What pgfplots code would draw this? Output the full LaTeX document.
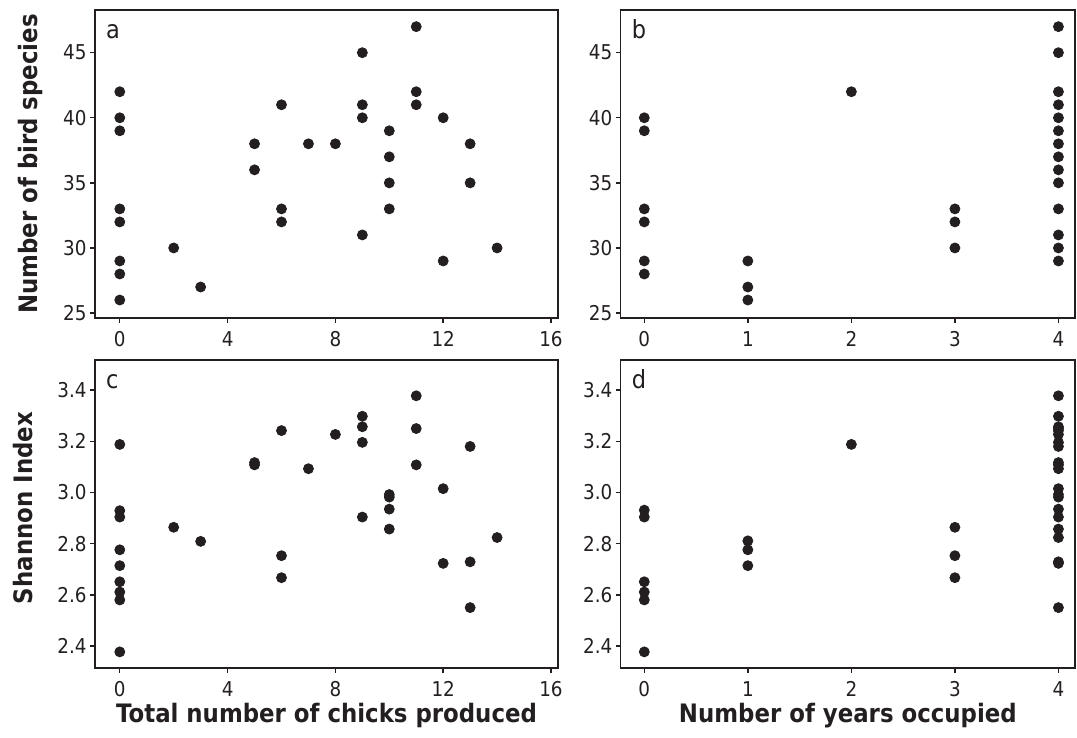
\documentclass[border=0pt]{standalone}
\usepackage{fontspec}
\setmainfont{DejaVu Sans}[FakeStretch=0.9]
\usepackage{pgfplots}
\pgfplotsset{compat=1.18}
\definecolor{ink}{HTML}{231F20}

\tikzset{letter/.style={anchor=base west, font=\fontsize{12.5}{14}\selectfont, text=ink, xshift=2pt, yshift=-14.5pt}}

\pgfplotsset{
  panel/.style={
    scale only axis, height=154pt,
    axis line style={ink, line width=0.7pt},
    tick style={ink, line width=0.7pt},
    tick align=outside, major tick length=2.5pt,
    xtick pos=left, ytick pos=left,
    /pgf/number format/assume math mode=true,
    every tick label/.append style={font=\fontsize{10.2}{12}\selectfont, text=ink, inner sep=1.5pt},
    xticklabel style={yshift=-2.5pt},
    label style={font=\fontsize{12.7}{15}\selectfont\bfseries, text=ink},
    xlabel style={at={(axis description cs:0.5,0)}, anchor=base, yshift=-27.5pt},
  },
  birds/.style={ymin=24.62, ymax=48.28, ytick={25,30,35,40,45}},
  shannon/.style={ymin=2.314, ymax=3.518, ytick={2.4,2.6,2.8,3.0,3.2,3.4},
    yticklabel style={/pgf/number format/.cd, fixed, fixed zerofill, precision=1}},
  chicks/.style={width=231.5pt, xmin=-0.92, xmax=16.26, xtick={0,4,8,12,16}},
  years/.style={width=227.15pt, xmin=-0.228, xmax=4.16, xtick={0,1,2,3,4}},
  dots/.style={only marks, mark=*, mark size=2.5pt, color=ink, mark options={fill=ink, draw=ink}},
}

\begin{document}
\begin{tikzpicture}
\useasboundingbox (0,0) rectangle (538.5pt,369pt);

% a
\begin{axis}[panel, birds, chicks, at={(47.5pt,364pt)}, anchor=north west,
  ylabel={Number of bird species}, ylabel style={yshift=5pt}]
\addplot[dots] coordinates {
 (0,42)(0,40)(0,39)(0,33)(0,32)(0,29)(0,28)(0,26)
 (2,30)(3,27)(5,38)(5,36)(6,41)(6,33)(6,32)(7,38)(8,38)
 (9,45)(9,41)(9,40)(9,31)(10,39)(10,37)(10,35)(10,33)
 (11,47)(11,42)(11,41)(12,40)(12,29)(13,38)(13,35)(14,30)
};
\node[letter] at (rel axis cs:0,1) {a};
\end{axis}

% b
\begin{axis}[panel, birds, years, at={(310.35pt,364pt)}, anchor=north west]
\addplot[dots] coordinates {
 (0,40)(0,39)(0,33)(0,32)(0,29)(0,28)
 (1,29)(1,27)(1,26)(2,42)(3,33)(3,32)(3,30)
 (4,47)(4,45)(4,42)(4,41)(4,40)(4,39)(4,38)(4,37)(4,36)(4,35)(4,33)(4,31)(4,30)(4,29)
};
\node[letter] at (rel axis cs:0,1) {b};
\end{axis}

% c
\begin{axis}[panel, shannon, chicks, at={(47.5pt,189pt)}, anchor=north west,
  ylabel={Shannon Index}, ylabel style={yshift=7pt, xshift=3pt},
  xlabel={Total number of chicks produced}]
\addplot[dots] coordinates {
 (0,3.188)(0,2.929)(0,2.904)(0,2.776)(0,2.714)(0,2.651)(0,2.611)(0,2.580)(0,2.377)
 (2,2.864)(3,2.809)(5,3.117)(5,3.108)(6,3.242)(6,2.753)(6,2.667)(7,3.093)(8,3.227)
 (9,3.298)(9,3.257)(9,3.196)(9,2.904)(10,2.992)(10,2.982)(10,2.935)(10,2.857)
 (11,3.378)(11,3.250)(11,3.108)(12,3.015)(12,2.723)(13,3.180)(13,2.729)(13,2.550)(14,2.824)
};
\node[letter] at (rel axis cs:0,1) {c};
\end{axis}

% d
\begin{axis}[panel, shannon, years, at={(310.35pt,189pt)}, anchor=north west,
  xlabel={Number of years occupied}]
\addplot[dots] coordinates {
 (0,2.931)(0,2.904)(0,2.651)(0,2.611)(0,2.580)(0,2.377)
 (1,2.811)(1,2.776)(1,2.714)(2,3.188)(3,2.864)(3,2.753)(3,2.667)
 (4,3.378)(4,3.298)(4,3.257)(4,3.250)(4,3.242)(4,3.227)(4,3.196)(4,3.180)
 (4,3.117)(4,3.108)(4,3.093)(4,3.015)(4,2.992)(4,2.982)(4,2.935)(4,2.904)
 (4,2.857)(4,2.824)(4,2.729)(4,2.723)(4,2.550)
};
\node[letter] at (rel axis cs:0,1) {d};
\end{axis}
\end{tikzpicture}
\end{document}
